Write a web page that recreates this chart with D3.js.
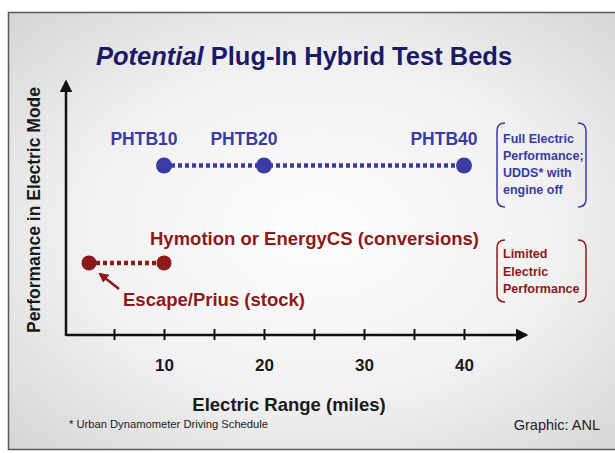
<!DOCTYPE html>
<html lang="en">
<head>
<meta charset="UTF-8">
<script src="https://d3js.org/d3.v7.min.js"></script>
<style>
  body { margin: 0; background: #fff; }
  text { font-family: Arial, "Liberation Sans", sans-serif; font-weight: bold; }
</style>
</head>
<body>
<svg id="chart" width="615" height="453"></svg>
<script>
    // data
    var tickValues = [5, 10, 15, 20, 25, 30, 35, 40];
    var tickLabels = ["", "10", "", "20", "", "30", "", "40"];

    var fullNames = ["PHTB10", "PHTB20", "PHTB40"];
    var fullRange = [10, 20, 40];
    var fullPerf = [0.67, 0.67, 0.67];

    var limitedRange = [2.5, 10];
    var limitedPerf = [0.285, 0.285];

    var fullNote = ["Full Electric", "Performance;", "UDDS* with", "engine off"];
    var limitedNote = ["Limited", "Electric", "Performance"];

    var blue = "#3b3ba3";
    var red = "#8c1a1a";

    var svg = d3.select("#chart");

    // background gradient
    var defs = svg.append("defs");
    var grad = defs.append("radialGradient").attr("id", "bg")
        .attr("cx", "50%").attr("cy", "50%").attr("r", "70%");
    grad.append("stop").attr("offset", "0%").attr("stop-color", "#fdfdfd");
    grad.append("stop").attr("offset", "55%").attr("stop-color", "#f1f1f1");
    grad.append("stop").attr("offset", "100%").attr("stop-color", "#d6d6d6");

    var mk = defs.append("marker").attr("id", "arr")
        .attr("viewBox", "0 0 10 10").attr("refX", 8).attr("refY", 5)
        .attr("markerWidth", 5).attr("markerHeight", 5).attr("orient", "auto");
    mk.append("path").attr("d", "M0,0 L10,5 L0,10 z").attr("fill", "#111");
    var mkr = defs.append("marker").attr("id", "arrRed")
        .attr("viewBox", "0 0 10 10").attr("refX", 8).attr("refY", 5)
        .attr("markerWidth", 4).attr("markerHeight", 4).attr("orient", "auto");
    mkr.append("path").attr("d", "M0,0 L10,5 L0,10 z").attr("fill", red);

    svg.append("rect")
        .attr("x", 8.5).attr("y", 12.5)
        .attr("width", 620).attr("height", 437)
        .attr("fill", "url(#bg)")
        .attr("stroke", "#5a5a5a")
        .attr("stroke-width", 1.5);

    // title
    var title = svg.append("text")
        .attr("x", 96).attr("y", 65)
        .attr("fill", "#1a1a66")
        .style("font-size", "25.5px");
    title.append("tspan").style("font-style", "italic").text("Potential");
    title.append("tspan").text(" Plug-In Hybrid Test Beds");

    // scales
    var x = d3.scaleLinear().domain([0, 40]).range([64, 464]);
    var y = d3.scaleLinear().domain([0, 1]).range([335, 82]);

    // axes
    svg.append("line")
        .attr("x1", x(0) + 2).attr("x2", x(46.2))
        .attr("y1", y(0)).attr("y2", y(0))
        .attr("stroke", "#111").attr("stroke-width", 2.5)
        .attr("marker-end", "url(#arr)");
    svg.append("line")
        .attr("x1", x(0) + 2).attr("x2", x(0) + 2)
        .attr("y1", y(0) + 1).attr("y2", y(1))
        .attr("stroke", "#111").attr("stroke-width", 2.5)
        .attr("marker-end", "url(#arr)");

    var xAxis = d3.axisBottom(x)
        .tickValues(tickValues)
        .tickSize(0)
        .tickFormat(function (d, i) { return tickLabels[i]; });
    var gx = svg.append("g")
        .attr("transform", "translate(0," + y(0) + ")")
        .call(xAxis);
    gx.select(".domain").remove();
    gx.selectAll(".tick line").remove();
    gx.selectAll(".tick").append("line")
        .attr("y1", -6).attr("y2", 5)
        .attr("stroke", "#111").attr("stroke-width", 2);
    gx.selectAll(".tick text")
        .attr("y", 36).attr("dy", 0)
        .attr("fill", "#1a1a1a")
        .style("font-size", "17px")
        .style("font-family", "Arial, 'Liberation Sans', sans-serif")
        .style("font-weight", "bold");

    svg.append("text")
        .attr("x", 289).attr("y", 411)
        .attr("text-anchor", "middle")
        .attr("fill", "#1a1a1a")
        .style("font-size", "18.5px")
        .text("Electric Range (miles)");

    svg.append("text")
        .attr("transform", "translate(40,210) rotate(-90)")
        .attr("text-anchor", "middle")
        .attr("fill", "#1a1a1a")
        .style("font-size", "17.5px")
        .text("Performance in Electric Mode");

    // blue series
    var fullPts = fullRange.map(function (d, i) { return [x(d), y(fullPerf[i])]; });
    svg.append("path")
        .attr("d", d3.line()(fullPts))
        .attr("fill", "none").attr("stroke", blue)
        .attr("stroke-width", 4.5).attr("stroke-dasharray", "4 3");
    svg.selectAll(".fullDot").data(fullRange).enter().append("circle")
        .attr("cx", function (d) { return x(d); })
        .attr("cy", function (d, i) { return y(fullPerf[i]); })
        .attr("r", 8).attr("fill", blue);
    svg.selectAll(".fullLab").data(fullNames).enter().append("text")
        .attr("x", function (d, i) { return x(fullRange[i]) - 20; })
        .attr("y", function (d, i) { return y(fullPerf[i]) - 20; })
        .attr("text-anchor", "middle")
        .attr("fill", blue)
        .style("font-size", "17.5px")
        .text(function (d) { return d; });

    // red series
    var limPts = limitedRange.map(function (d, i) { return [x(d), y(limitedPerf[i])]; });
    svg.append("path")
        .attr("d", d3.line()(limPts))
        .attr("fill", "none").attr("stroke", red)
        .attr("stroke-width", 4.5).attr("stroke-dasharray", "4 3");
    svg.selectAll(".limDot").data(limitedRange).enter().append("circle")
        .attr("cx", function (d) { return x(d); })
        .attr("cy", function (d, i) { return y(limitedPerf[i]); })
        .attr("r", 7.5).attr("fill", red);

    svg.append("text")
        .attr("x", x(limitedRange[1]) - 14).attr("y", y(limitedPerf[1]) - 18)
        .attr("fill", red)
        .style("font-size", "18.5px")
        .text("Hymotion or EnergyCS (conversions)");
    svg.append("text")
        .attr("x", x(limitedRange[0]) + 34).attr("y", y(limitedPerf[0]) + 43)
        .attr("fill", red)
        .style("font-size", "18.5px")
        .text("Escape/Prius (stock)");
    svg.append("line")
        .attr("x1", x(limitedRange[0]) + 30).attr("y1", y(limitedPerf[0]) + 26)
        .attr("x2", x(limitedRange[0]) + 11).attr("y2", y(limitedPerf[0]) + 11)
        .attr("stroke", red).attr("stroke-width", 2.5)
        .attr("marker-end", "url(#arrRed)");

    // bracketed notes
    function bracket(x0, x1, y0, y1, color) {
        var c = 8;
        svg.append("path")
            .attr("d", "M" + (x0 + c) + "," + y0 + " Q" + x0 + "," + y0 + " " + x0 + "," + (y0 + c) +
                " L" + x0 + "," + (y1 - c) + " Q" + x0 + "," + y1 + " " + (x0 + c) + "," + y1)
            .attr("fill", "none").attr("stroke", color).attr("stroke-width", 1.5);
        svg.append("path")
            .attr("d", "M" + (x1 - c) + "," + y0 + " Q" + x1 + "," + y0 + " " + x1 + "," + (y0 + c) +
                " L" + x1 + "," + (y1 - c) + " Q" + x1 + "," + y1 + " " + (x1 - c) + "," + y1)
            .attr("fill", "none").attr("stroke", color).attr("stroke-width", 1.5);
    }
    bracket(497, 586, 123, 207, blue);
    bracket(497, 586, 240, 302, red);

    svg.append("g").selectAll("text").data(fullNote).enter().append("text")
        .attr("x", 503)
        .attr("y", function (d, i) { return 143 + i * 17; })
        .attr("fill", blue)
        .style("font-size", "12.5px")
        .text(function (d) { return d; });
    svg.append("g").selectAll("text").data(limitedNote).enter().append("text")
        .attr("x", 503)
        .attr("y", function (d, i) { return 258 + i * 17.5; })
        .attr("fill", red)
        .style("font-size", "12.5px")
        .text(function (d) { return d; });

    // footer
    svg.append("text")
        .attr("x", 69).attr("y", 428)
        .attr("fill", "#222")
        .style("font-size", "11.2px")
        .style("font-weight", "normal")
        .text("* Urban Dynamometer Driving Schedule");
    svg.append("text")
        .attr("x", 600).attr("y", 430)
        .attr("text-anchor", "end")
        .attr("fill", "#222")
        .style("font-size", "14.5px")
        .style("font-weight", "normal")
        .text("Graphic: ANL");
</script>
</body>
</html>
